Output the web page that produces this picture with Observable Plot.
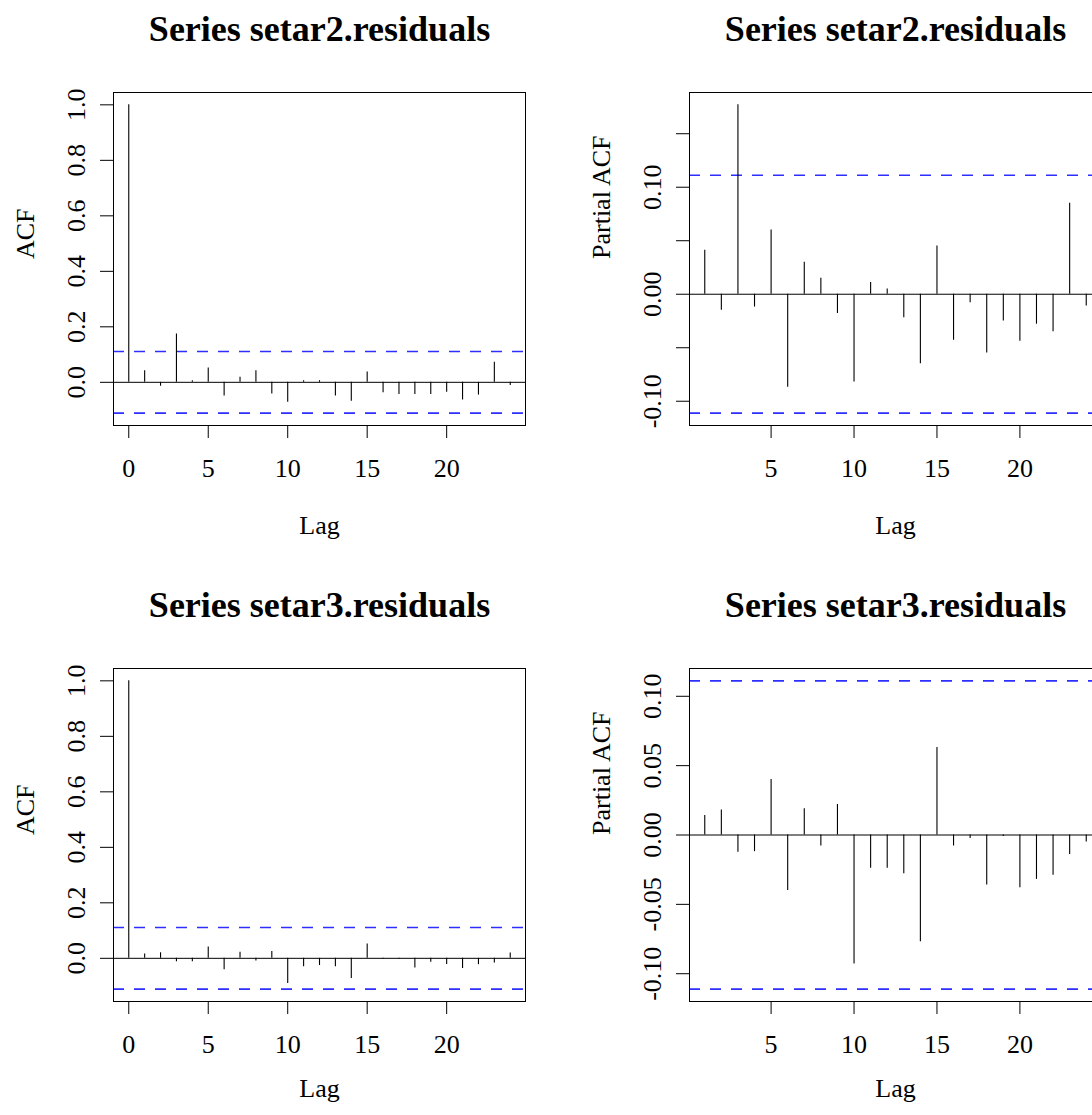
<!DOCTYPE html>
<html>
<head>
<meta charset="utf-8">
<script src="https://cdn.jsdelivr.net/npm/d3@7"></script>
<script src="https://cdn.jsdelivr.net/npm/@observablehq/plot@0.6"></script>
<style>
  html, body { margin: 0; padding: 0; background: #fff; }
  #grid { position: relative; width: 1092px; height: 1115px; overflow: hidden; background: #fff; }
  #grid > .panel { position: absolute; width: 576px; height: 576px; }
</style>
</head>
<body>
<div id="grid"></div>
<script>
// Number of residuals behind each correlogram (sets the 95% band 1.96/sqrt(n))
const nObs = 311;

// Lags
const acfLags  = [0, 1, 2, 3, 4, 5, 6, 7, 8, 9, 10, 11, 12, 13, 14, 15, 16, 17, 18, 19, 20, 21, 22, 23, 24];
const pacfLags = [1, 2, 3, 4, 5, 6, 7, 8, 9, 10, 11, 12, 13, 14, 15, 16, 17, 18, 19, 20, 21, 22, 23, 24];

// Autocorrelations of the SETAR(2) residuals
const setar2Acf = [1, 0.042, -0.014, 0.174, 0.006, 0.052, -0.049, 0.018, 0.042, -0.042, -0.072, 0.006, 0.006,
  -0.049, -0.068, 0.037, -0.038, -0.044, -0.044, -0.044, -0.036, -0.064, -0.046, 0.072, -0.011];
// Partial autocorrelations of the SETAR(2) residuals
const setar2Pacf = [0.041, -0.015, 0.177, -0.012, 0.060, -0.087, 0.030, 0.015, -0.018, -0.082, 0.011, 0.005,
  -0.022, -0.065, 0.045, -0.043, -0.008, -0.055, -0.025, -0.044, -0.028, -0.035, 0.085, -0.011];

// Autocorrelations of the SETAR(3) residuals
const setar3Acf = [1, 0.016, 0.020, -0.012, -0.012, 0.041, -0.041, 0.022, -0.010, 0.025, -0.091, -0.030, -0.026,
  -0.030, -0.073, 0.052, -0.002, -0.002, -0.035, -0.014, -0.022, -0.037, -0.023, -0.017, 0.019];
// Partial autocorrelations of the SETAR(3) residuals
const setar3Pacf = [0.014, 0.018, -0.0125, -0.012, 0.040, -0.040, 0.019, -0.008, 0.022, -0.093, -0.024, -0.024,
  -0.028, -0.077, 0.063, -0.008, -0.0025, -0.036, -0.001, -0.038, -0.032, -0.029, -0.014, -0.005];

// Axis ticks and which of them carry a label
const acfXTicks  = [0, 5, 10, 15, 20];
const pacfXTicks = [5, 10, 15, 20];
const acfYTicks  = [0, 0.2, 0.4, 0.6, 0.8, 1.0];
const acfYLabels = [0, 0.2, 0.4, 0.6, 0.8, 1.0];
const setar2PacfYTicks  = [-0.10, -0.05, 0, 0.05, 0.10, 0.15];
const setar2PacfYLabels = [-0.10, 0, 0.10];
const setar3PacfYTicks  = [-0.10, -0.05, 0, 0.05, 0.10];
const setar3PacfYLabels = [-0.10, -0.05, 0, 0.05, 0.10];

const titles = ["Series setar2.residuals", "Series setar3.residuals"];

const SERIF = "'Liberation Serif', 'Times New Roman', serif";
const PANEL = 576;
const STEP = 576.4;

// R-style axis range: data range padded by 4% on both sides
function padRange(lo, hi) {
  const r = hi - lo;
  return [lo - 0.04 * r, hi + 0.04 * r];
}

function correlogram({title, ylab, lags, values, xTicks, yTicks, yLabels, digits, xlabOffset}) {
  const data = lags.map((lag, i) => ({lag, value: values[i]}));
  const ci = 1.96 / Math.sqrt(nObs);
  const xDomain = padRange(d3.min(lags), d3.max(lags));
  const yDomain = padRange(Math.min(-ci, d3.min(values)), Math.max(ci, d3.max(values)));
  const labelled = (d) => yLabels.some((v) => Math.abs(v - d) < 1e-9);
  return Plot.plot({
    width: PANEL,
    height: PANEL,
    marginLeft: 113,
    marginRight: 51,
    marginTop: 92,
    marginBottom: 151,
    x: {domain: xDomain},
    y: {domain: yDomain},
    style: {fontFamily: SERIF, fontSize: "26px", background: "white", color: "black"},
    marks: [
      Plot.ruleY([ci, -ci], {stroke: "#2e2eff", strokeWidth: 1.6, strokeDasharray: "11,10"}),
      Plot.ruleY([0], {stroke: "black"}),
      Plot.ruleX(data, {x: "lag", y1: 0, y2: "value", stroke: "black", strokeWidth: 1.1}),
      Plot.frame({stroke: "black"}),
      Plot.axisX({
        ticks: xTicks, tickSize: 13, tickPadding: 20, label: null,
        tickFormat: (d) => String(d)
      }),
      Plot.axisY({
        ticks: yTicks, tickSize: 13, tickPadding: 16, tickRotate: -90,
        textAnchor: "middle", lineAnchor: "bottom", label: null,
        tickFormat: (d) => (labelled(d) ? d.toFixed(digits) : "")
      }),
      Plot.text([title], {
        text: (d) => d, frameAnchor: "top", dy: -52, lineAnchor: "bottom",
        fontWeight: "bold", fontSize: 36
      }),
      Plot.text(["Lag"], {text: (d) => d, frameAnchor: "bottom", dy: xlabOffset, lineAnchor: "bottom"}),
      Plot.text([ylab], {text: (d) => d, frameAnchor: "left", dx: -88, rotate: -90, lineAnchor: "middle"})
    ]
  });
}

const panels = [
  {col: 0, row: 0, title: titles[0], ylab: "ACF", lags: acfLags, values: setar2Acf, xlabOffset: 108,
   xTicks: acfXTicks, yTicks: acfYTicks, yLabels: acfYLabels, digits: 1},
  {col: 1, row: 0, title: titles[0], ylab: "Partial ACF", lags: pacfLags, values: setar2Pacf, xlabOffset: 108,
   xTicks: pacfXTicks, yTicks: setar2PacfYTicks, yLabels: setar2PacfYLabels, digits: 2},
  {col: 0, row: 1, title: titles[1], ylab: "ACF", lags: acfLags, values: setar3Acf, xlabOffset: 95,
   xTicks: acfXTicks, yTicks: acfYTicks, yLabels: acfYLabels, digits: 1},
  {col: 1, row: 1, title: titles[1], ylab: "Partial ACF", lags: pacfLags, values: setar3Pacf, xlabOffset: 95,
   xTicks: pacfXTicks, yTicks: setar3PacfYTicks, yLabels: setar3PacfYLabels, digits: 2}
];

const grid = document.getElementById("grid");
for (const p of panels) {
  const holder = document.createElement("div");
  holder.className = "panel";
  holder.style.left = `${p.col * STEP}px`;
  holder.style.top = `${p.row * STEP}px`;
  holder.appendChild(correlogram(p));
  grid.appendChild(holder);
}
</script>
</body>
</html>
